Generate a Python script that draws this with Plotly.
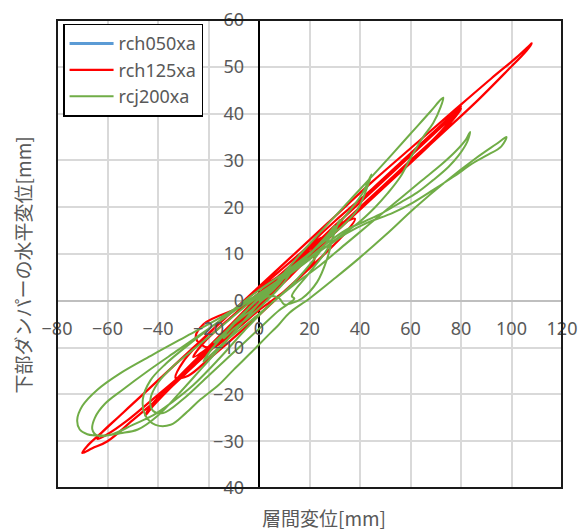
import plotly.graph_objects as go

# ---- data ----
blue_x = [0, 5, 10, 12, 9, 3, -5, -12, -18, -20, -17, -10, -2, 6, 10, 7, 0, -8, -14, -11, -4, 0]
blue_y = [0, 3, 5, 6, 4, 1, -3, -6.5, -9.5, -10.5, -8.5, -5, -0.5, 3.5, 5.5, 3.5, 0, -4.5, -7.5, -5.5, -1.5, 0.5]

red_x = [0, 4, 8, 10, 8, 3, -3, -8, -12, -10, -4, 3, 10, 16, 20, 18, 12, 4, -6, -14, -20, -23, -20, -12, -2, 8,
         18, 26, 33, 31, 24, 14, 3, -10, -22, -33, -42, -45, -43, -35, -24, -12, 0, 14, 28, 42, 55, 68, 77, 80,
         78, 68, 56, 44, 32, 20, 8, -5, -18, -30, -42, -52, -60, -64, -62, -55, -45, -34, -22, -10, 3, 16, 30,
         45, 58, 70, 78, 80, 78, 70, 60, 48, 36, 24, 12, 0, -12, -25, -38, -50, -60, -66, -70, -68, -62, -52,
         -40, -28, -15, -2, 12, 28, 45, 62, 78, 92, 102, 107, 108, 106, 98, 86, 72, 58, 45, 33, 22, 12, 3, -6,
         -14, -18, -15, -8, 0, 8, 15, 22, 25, 23, 16, 8, 0, -6, -9, -6, 0,
         -10, -22, -25, -20, -10, 0, 10, 18, 22, 20, 10, 0, -8, -18, -30, -33, -28, -20, -5, 10, 25, 35, 38,
         33, 20, 5, -10, -22, -26, -20, -10, 0, 5, 8, 5, 0]
red_y = [0, 2.5, 4.5, 5.5, 4, 1, -2, -4.5, -6.5, -5, -1.5, 2.5, 6, 9, 11, 9.5, 6, 1.5, -3.5, -7.5, -10.5, -12.5,
         -11, -6, 0, 5, 10, 14, 17.5, 15.5, 11.5, 6.5, 0.5, -6, -12, -17.5, -22.5, -24.5, -22.5, -18, -12, -5.5,
         1, 8, 15, 22, 28.5, 35, 39.5, 41, 39.5, 33.5, 27.5, 21.5, 15.5, 9.5, 3.5, -3, -9.5, -15.5, -21, -25.5,
         -28.5, -29.5, -28, -24.5, -19.5, -14, -8, -2, 4, 10, 17, 24, 30.5, 36.5, 40.5, 41.5, 40, 35, 30, 24,
         18, 12, 5.5, -1, -7, -13.5, -20, -25.5, -30, -31.5, -32.5, -31, -28, -23, -17, -11, -4.5, 2, 9, 17,
         25.5, 33.5, 41, 47.5, 52, 54.5, 55, 53.5, 49, 42.5, 35.5, 28.5, 22, 16, 10.5, 5, 0.5, -4.5, -8.5, -10,
         -8, -4, 0.5, 5, 9, 12.5, 13.5, 12, 8, 3.5, -1, -4, -5.5, -3.5, 0,
         -2, -5, -8, -10, -6.5, -2, 2, 6, 9, 10, 6, 2.5, -1, -6, -13, -16.5, -16, -12.5, -5.5, 2, 9.5, 15, 17.5,
         16.5, 11, 4, -3, -9, -12, -10, -5.5, -0.5, 3, 4.5, 2.5, 0]

green_x = [0, 5, 10, 13, 10, 4, -4, -10, -14, -12, -5, 4, 12, 20, 27, 30, 28, 22, 14, 5, -5, -14, -20, -22,
           -19, -10, 0, 12, 24, 34, 41, 44.5, 43, 39, 32, 22, 10, -2, -15, -27, -37, -43, -46, -45, -41, -35,
           -29, -23, -16, -10, -3, 3, 8, 12, 20, 30, 39, 50, 62, 74, 86, 94, 98, 96, 90, 85, 77, 69, 61, 53,
           43, 35, 28, 18, 8, -3, -15, -28.5, -42, -55, -64, -70, -72, -71, -68, -62, -55, -48, -40, -32, -22,
           -12, 0, 12, 24, 36, 48, 60, 68, 72, 73, 72, 69, 65, 60, 56, 51, 46, 39, 30, 18, 5, -8, -20, -32,
           -44, -54, -61, -65, -66, -64, -58, -50, -42, -34, -26, -16, -6, 4, 14, 24, 34, 44, 54, 64, 72, 78,
           82, 83.6, 82.5, 79, 75, 69, 62.6, 56, 49, 42, 34, 25, 15, 5, -5, -15, -25, -34, -40, -43, -42, -38,
           -30, -20, -10, 0, 8, 12, 14, 13, 20, 27, 31, 32, 30, 27, 23, 17, 13, 10, 8, 4, -3, -10, -18, -14,
           -5, 5, 10, 5, 0]
green_y = [0, 2.5, 5, 6.5, 4, 0.5, -3.5, -6, -8, -6, -2, 2.5, 6.5, 10, 14, 16, 13.5, 9, 4, -0.5, -5, -9, -12,
           -13, -10.5, -5, 0.5, 6, 12, 18, 23, 27, 24.5, 19.5, 15.5, 11, 6, 1.5, -4, -9, -13.5, -17, -21, -24.5,
           -26.5, -26.5, -24, -21, -18, -14.7, -11, -7.7, -5, -2.6, 0.5, 4.8, 8.8, 14, 20, 25.5, 30.5, 33.5, 35,
           33, 31, 29.5, 26.5, 23.7, 21, 18.8, 16.7, 14.5, 12, 8.5, 4.5, 0.5, -3.5, -7.5, -11.5, -15.5, -19,
           -22.5, -25.5, -27.5, -28.5, -28.8, -28.3, -27.5, -24.5, -20, -14, -8, -0.5, 7.3, 14.5, 21.5, 28.5,
           35.7, 40.5, 43, 43.4, 41.5, 38, 35, 30.5, 26.5, 23, 20, 16.5, 13, 8, 3, -1.5, -6, -10.5, -15, -19,
           -22, -25, -27.5, -28.8, -28.5, -26.5, -24.5, -21.5, -18, -12.5, -6.5, -1, 3.5, 7.5, 12, 16.5, 21,
           25.5, 29, 32, 34.5, 36.1, 34, 31, 28.6, 25.8, 23.1, 21, 18.8, 17, 15, 11.5, 7, 3, -1, -5.5, -10, -14,
           -17.5, -21, -23.5, -24, -21, -16, -11, -6, -2, -0.5, 0.5, 1, 6, 11, 16, 17.3, 15, 9, 4, 0.5, -0.5,
           -0.8, 0.5, 1, -2, -5, -9, -7, -2, 3, 5, 2, 0]

series_names = ["rch050xa", "rch125xa", "rcj200xa"]
series_colors = ["#5B9BD5", "#FF0000", "#70AD47"]

x_range = [-80, 120]
y_range = [-40, 60]
x_title = "層間変位[mm]"
y_title = "下部ダンパーの水平変位[mm]"

tick_font = dict(family="Noto Sans, Open Sans, sans-serif", size=18, color="#595959")
cjk_font = dict(family="Noto Sans CJK JP, Noto Sans, sans-serif", size=19, color="#595959")

fig = go.Figure()
for xs, ys, name, col, w in [(blue_x, blue_y, series_names[0], series_colors[0], 3),
                             (red_x, red_y, series_names[1], series_colors[1], 2.25),
                             (green_x, green_y, series_names[2], series_colors[2], 2)]:
    fig.add_trace(go.Scatter(x=xs, y=ys, mode="lines", name=name,
                             line=dict(color=col, width=w, shape="spline", smoothing=1.0)))

L, R, T, B = 57, 18, 20, 43
x_pos = (0 - y_range[0]) / (y_range[1] - y_range[0])
y_pos = (0 - x_range[0]) / (x_range[1] - x_range[0])

fig.update_layout(
    width=580, height=531,
    margin=dict(l=L, r=R, t=T, b=B, autoexpand=False),
    paper_bgcolor="white", plot_bgcolor="white",
    showlegend=True,
    legend=dict(x=0.012, y=0.992, xanchor="left", yanchor="top",
                bgcolor="white", bordercolor="#000000", borderwidth=1.5,
                itemwidth=44,
                font=dict(family="Noto Sans, sans-serif", size=18, color="#595959"),
                tracegroupgap=0),
    xaxis=dict(range=x_range, dtick=20, tick0=0, showgrid=True, gridcolor="#D9D9D9", gridwidth=1.5,
               zeroline=True, zerolinecolor="#000000", zerolinewidth=1.5, automargin=False,
               anchor="free", position=x_pos, showline=False, ticks="",
               ticklabelstandoff=15, tickfont=tick_font),
    yaxis=dict(range=y_range, dtick=10, tick0=0, showgrid=True, gridcolor="#D9D9D9", gridwidth=1.5,
               zeroline=True, zerolinecolor="#BFBFBF", zerolinewidth=1.5, automargin=False,
               anchor="free", position=y_pos, showline=False, ticks="",
               ticklabelstandoff=15, tickfont=tick_font),
    shapes=[dict(type="rect", xref="paper", yref="paper", x0=0, x1=1, y0=0, y1=1,
                 line=dict(color="#1a1a1a", width=2), layer="above")],
    annotations=[
        dict(text=x_title, xref="paper", yref="paper", x=0.529, y=-0.062, xanchor="center",
             yanchor="middle", showarrow=False, font=cjk_font),
        dict(text=y_title, xref="paper", yref="paper", x=-0.069, y=0.476, xanchor="center",
             yanchor="middle", showarrow=False, textangle=-90, font=cjk_font),
    ],
)

fig.write_html("out.html")
